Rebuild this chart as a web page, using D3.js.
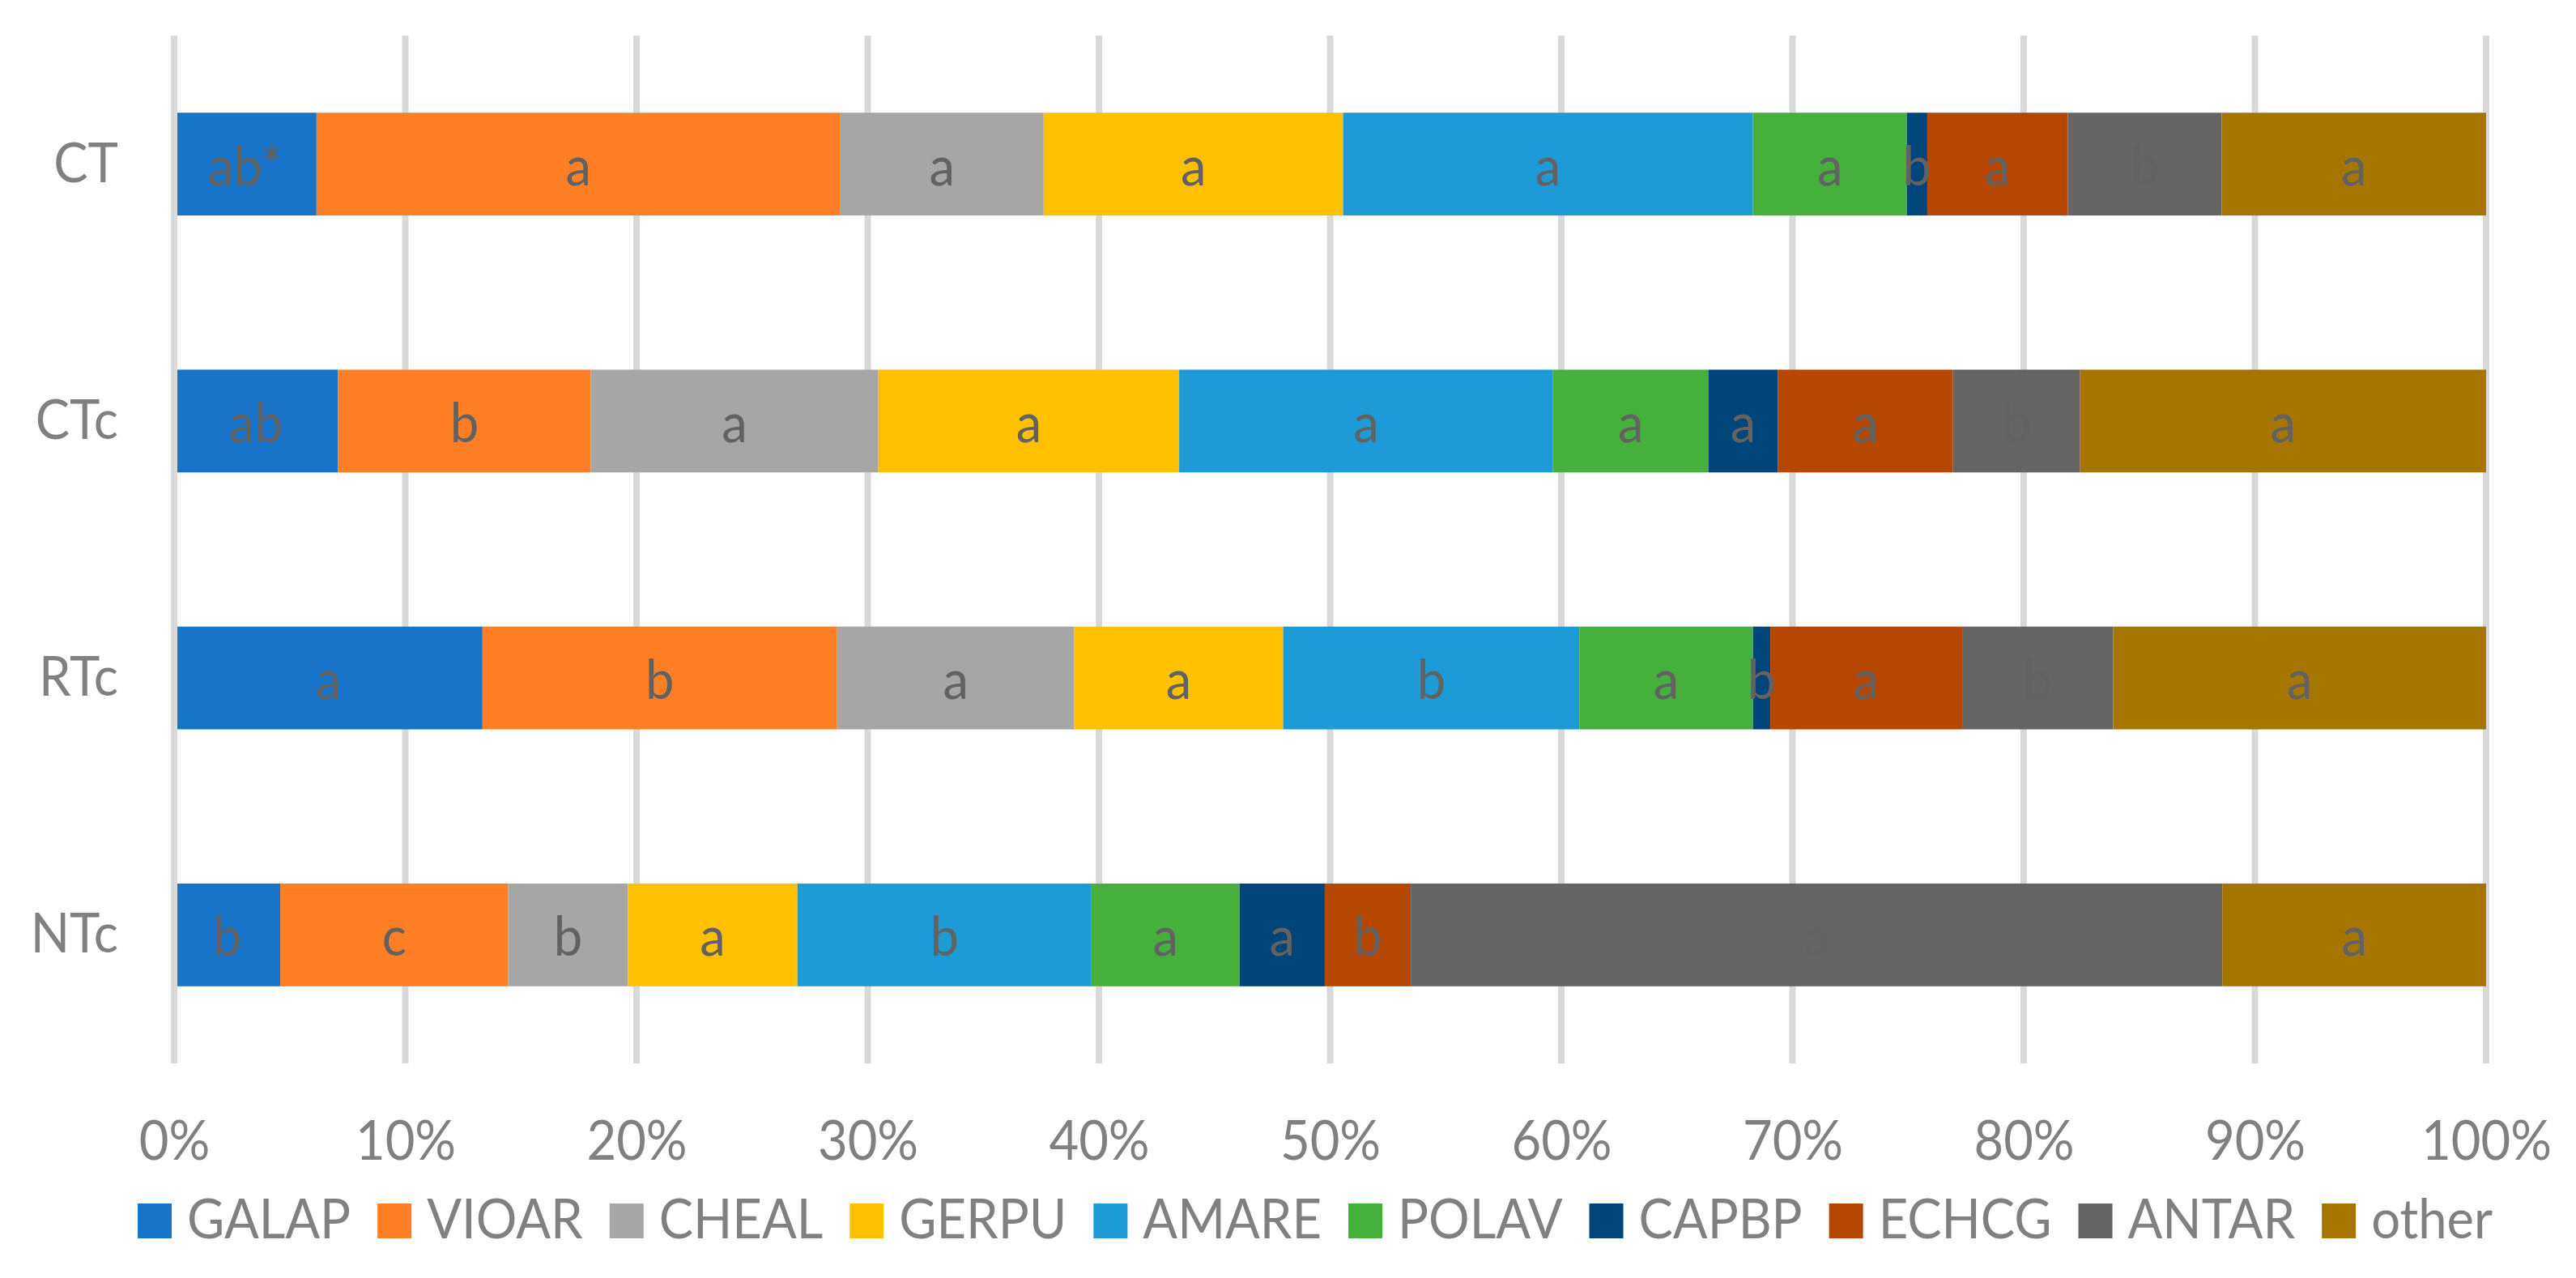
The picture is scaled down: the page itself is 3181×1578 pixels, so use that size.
<!DOCTYPE html>
<html>
<head>
<meta charset="utf-8">
<script src="https://cdn.jsdelivr.net/npm/d3@7"></script>
<style>
  html, body { margin: 0; padding: 0; background: #ffffff; }
  svg { display: block; }
</style>
</head>
<body>
<svg id="chart" width="3181" height="1578"></svg>
<script>
// ---------------- DATA ----------------
const categories = ["CT", "CTc", "RTc", "NTc"];
const seriesNames = ["GALAP", "VIOAR", "CHEAL", "GERPU", "AMARE", "POLAV", "CAPBP", "ECHCG", "ANTAR", "other"];
const seriesColors = ["#1874C9", "#FF7F27", "#A6A6A6", "#FFC000", "#1E9BD7", "#45B03C", "#004579", "#B54700", "#646464", "#A67500"];

// share of each category (%), in order CT, CTc, RTc, NTc
const GALAP = [6.16, 7.09, 13.34, 4.59];
const VIOAR = [22.66, 10.93, 15.34, 9.86];
const CHEAL = [8.79, 12.44, 10.25, 5.18];
const GERPU = [12.95, 13.01, 9.04, 7.33];
const AMARE = [17.73, 16.17, 12.81, 12.72];
const POLAV = [6.65, 6.72, 7.51, 6.40];
const CAPBP = [0.89, 3.00, 0.75, 3.69];
const ECHCG = [6.08, 7.58, 8.30, 3.72];
const ANTAR = [6.65, 5.50, 6.53, 35.10];
const other = [11.44, 17.56, 16.13, 11.41];

// significance letters shown inside each segment
const GALAP_labels = ["ab*", "ab", "a", "b"];
const VIOAR_labels = ["a", "b", "b", "c"];
const CHEAL_labels = ["a", "a", "a", "b"];
const GERPU_labels = ["a", "a", "a", "a"];
const AMARE_labels = ["a", "a", "b", "b"];
const POLAV_labels = ["a", "a", "a", "a"];
const CAPBP_labels = ["b", "a", "b", "a"];
const ECHCG_labels = ["a", "a", "a", "b"];
const ANTAR_labels = ["b", "b", "b", "a"];
const other_labels = ["a", "a", "a", "a"];

const xTicks = [0, 0.1, 0.2, 0.3, 0.4, 0.5, 0.6, 0.7, 0.8, 0.9, 1.0];

// ---------------- BUILD ----------------
const seriesValues = [GALAP, VIOAR, CHEAL, GERPU, AMARE, POLAV, CAPBP, ECHCG, ANTAR, other];
const seriesLabels = [GALAP_labels, VIOAR_labels, CHEAL_labels, GERPU_labels, AMARE_labels,
                      POLAV_labels, CAPBP_labels, ECHCG_labels, ANTAR_labels, other_labels];

const table = categories.map((c, i) => {
  const row = { category: c };
  seriesNames.forEach((s, j) => { row[s] = seriesValues[j][i]; });
  return row;
});

const stacked = d3.stack().keys(seriesNames).offset(d3.stackOffsetExpand)(table);

const FONT = "Lato, 'Open Sans', 'Noto Sans', sans-serif";
const FS = 67;
const SX = 0.945; // horizontal condensation to mimic Calibri proportions

const svg = d3.select("#chart");
const margin = { left: 215, right: 111, top: 44, bottom: 265 };
const W = 3181, H = 1578;

const x = d3.scaleLinear().domain([0, 1]).range([margin.left, W - margin.right]);
const y = d3.scaleBand().domain(categories).range([margin.top, H - margin.bottom])
  .paddingInner(0.6).paddingOuter(0.3);

const color = d3.scaleOrdinal().domain(seriesNames).range(seriesColors);

// gridlines (except 0, drawn later as axis line)
const grid = svg.append("g");
grid.selectAll("line").data(xTicks.filter(t => t > 0)).join("line")
  .attr("x1", d => x(d)).attr("x2", d => x(d))
  .attr("y1", margin.top).attr("y2", H - margin.bottom)
  .attr("stroke", "#D9D9D9").attr("stroke-width", 8);

// bars
const layers = svg.append("g").selectAll("g").data(stacked).join("g")
  .attr("fill", d => color(d.key));
layers.selectAll("rect").data(d => d).join("rect")
  .attr("x", d => x(d[0]))
  .attr("width", d => x(d[1]) - x(d[0]))
  .attr("y", d => y(d.data.category))
  .attr("height", y.bandwidth());

// axis line at 0
svg.append("line")
  .attr("x1", x(0)).attr("x2", x(0))
  .attr("y1", margin.top).attr("y2", H - margin.bottom)
  .attr("stroke", "#D9D9D9").attr("stroke-width", 8);

// segment labels
const labG = svg.append("g").attr("font-family", FONT).attr("font-size", FS)
  .attr("fill", "#626262").attr("text-anchor", "middle");
stacked.forEach((layer, j) => {
  labG.selectAll(null).data(layer).join("text")
    .attr("transform", d => `translate(${(x(d[0]) + x(d[1])) / 2},${y(d.data.category) + y.bandwidth() / 2 + 26}) scale(${SX},1)`)
    .text((d, i) => seriesLabels[j][i]);
});

// category axis labels
const yAxis = d3.axisLeft(y).tickSize(0).tickPadding(0);
const gy = svg.append("g").attr("transform", `translate(${x(0)},0)`).call(yAxis);
gy.select(".domain").remove();
gy.selectAll("text").attr("font-family", FONT).attr("font-size", FS).attr("fill", "#808080")
  .attr("dy", null).attr("x", 0).attr("y", 0)
  .attr("transform", `translate(-69,22) scale(${SX},1)`);

// x axis labels
const xAxis = d3.axisBottom(x).tickValues(xTicks).tickFormat(d3.format(".0%")).tickSize(0).tickPadding(0);
const gx = svg.append("g").attr("transform", `translate(0,${H - margin.bottom})`).call(xAxis);
gx.select(".domain").remove();
gx.selectAll("text").attr("font-family", FONT).attr("font-size", FS).attr("fill", "#808080")
  .attr("dy", null).attr("y", 0)
  .attr("transform", `translate(0,119) scale(${SX},1)`);

// legend
const legend = svg.append("g").attr("font-family", FONT).attr("font-size", FS).attr("fill", "#808080");
const SW = 42, GAP1 = 19, GAP2 = 33, LEG_BASE = 1529, LEG_CENTER = 1624;
const items = legend.selectAll("g").data(seriesNames).join("g");
items.append("rect").attr("width", SW).attr("height", SW + 1).attr("y", LEG_BASE - SW - 1)
  .attr("fill", d => color(d));
items.append("text").attr("transform", `translate(${SW + GAP1},${LEG_BASE}) scale(${SX},1)`).text(d => d);
let widths = [];
items.each(function () {
  widths.push(SW + GAP1 + SX * d3.select(this).select("text").node().getComputedTextLength());
});
const total = d3.sum(widths) + GAP2 * (widths.length - 1);
let cx = LEG_CENTER - total / 2;
items.each(function (d, i) {
  d3.select(this).attr("transform", `translate(${cx},0)`);
  cx += widths[i] + GAP2;
});
</script>
</body>
</html>
